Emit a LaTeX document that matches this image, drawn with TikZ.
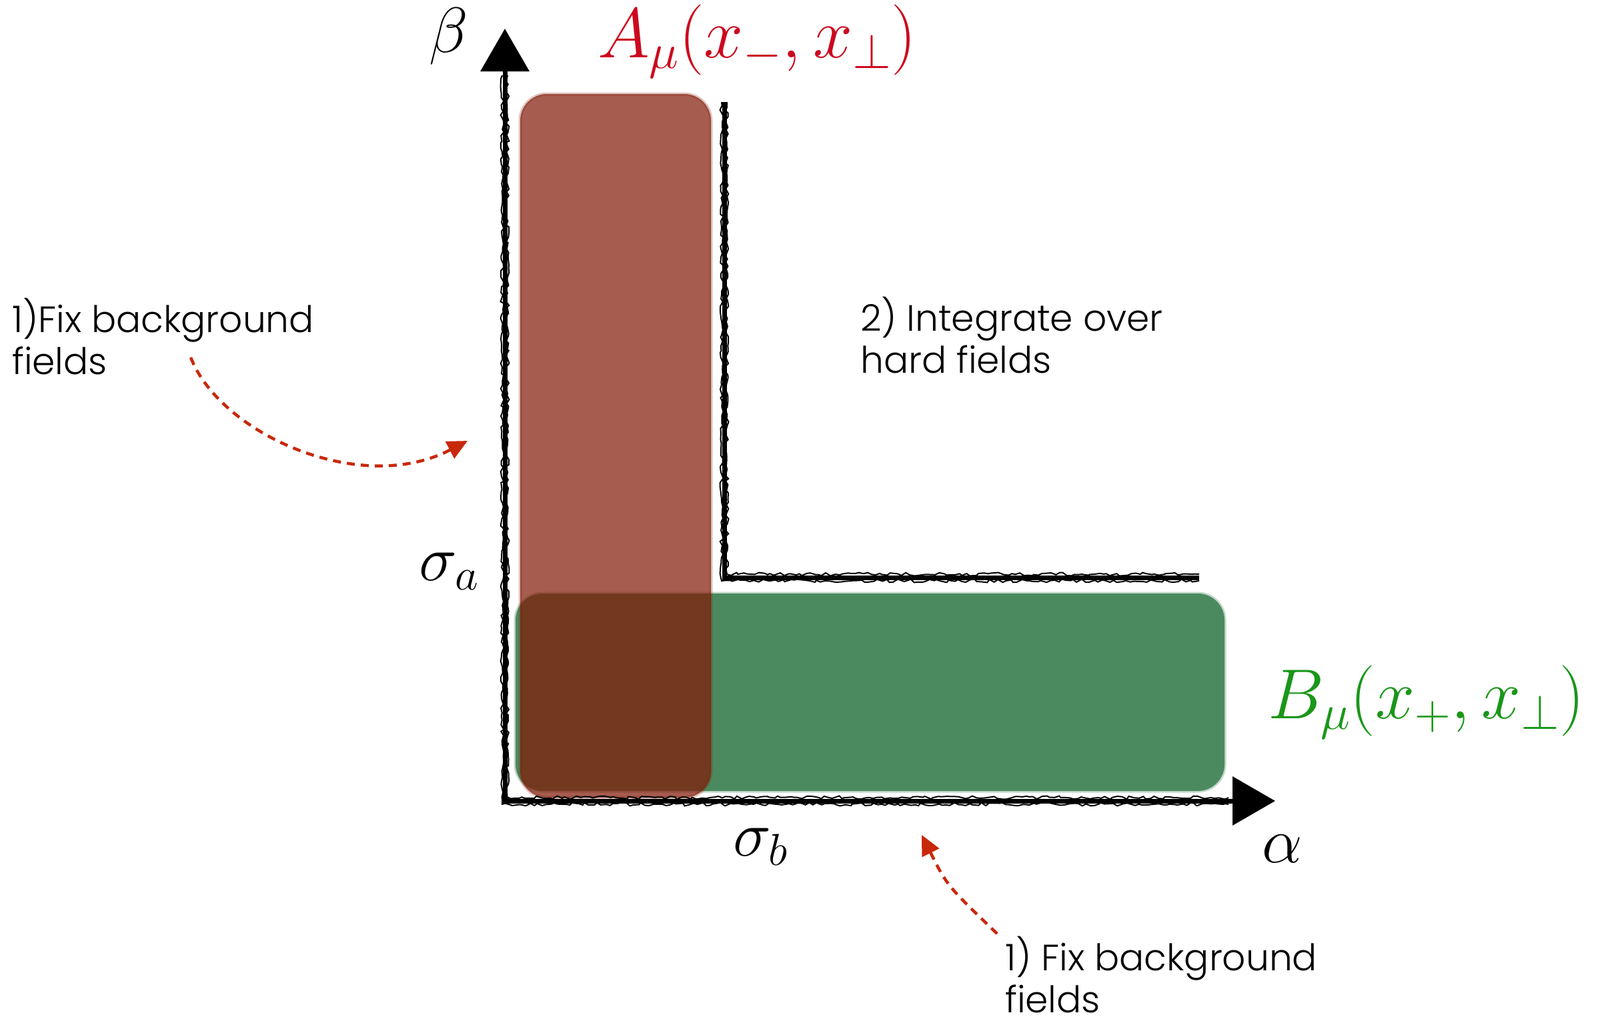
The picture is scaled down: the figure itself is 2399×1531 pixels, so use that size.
\RequirePackage{fix-cm}
\documentclass[tikz,border=0pt]{standalone}
\usepackage[no-math]{fontspec}
\setmainfont{Poppins Light}
\usetikzlibrary{arrows.meta,decorations.pathmorphing}
\definecolor{redfield}{RGB}{130,25,6}
\definecolor{greenfield}{RGB}{75,138,95}
\definecolor{labred}{RGB}{204,8,30}
\definecolor{labgreen}{RGB}{26,150,26}
\definecolor{dashred}{RGB}{200,40,10}
\newcommand\mymathsize{\fontsize{96}{100}\selectfont}
\newcommand\mybigmathsize{\fontsize{106}{110}\selectfont}
\newcommand\mytextsize{\fontsize{55}{63}\selectfont}
\tikzset{
  axisline/.style={draw=black, line width=7pt},
  axisarrow/.style={axisline, -{Triangle[length=64pt,width=72pt]}},
  brush/.style={draw=black, line width=2pt, decorate,
    decoration={random steps, segment length=6pt, amplitude=2.5pt}},
  dasharrow/.style={draw=dashred, line width=4.5pt, dash pattern=on 12pt off 9pt,
    -{Triangle[length=30pt,width=28pt]}},
  mathlab/.style={font=\mymathsize, inner sep=0pt},
  biglab/.style={font=\mybigmathsize, inner sep=0pt},
  txt/.style={font=\mytextsize, align=left, inner sep=0pt, anchor=west},
  fieldbox/.style={rounded corners=40pt},
  softedge/.style={line width=5pt, draw opacity=0.35, rounded corners=40pt}
}
\begin{document}
\begin{tikzpicture}[x=1pt,y=-1pt]
\useasboundingbox (0,0) rectangle (2399,1531);
% field regions
\fill[greenfield, fieldbox] (773,890) rectangle (1836,1186);
\draw[greenfield, softedge] (773,890) rectangle (1836,1186);
\fill[redfield, fill opacity=0.71, fieldbox] (780,141) rectangle (1066,1196);
\draw[redfield, softedge, draw opacity=0.25] (780,141) rectangle (1066,1196);
% axes
\coordinate (O) at (757,1206);
\coordinate (Ytip) at (757,43);
\coordinate (Ox) at (752,1201);
\coordinate (Xtip) at (1912,1201);
\coordinate (Ltop) at (1086,153);
\coordinate (Lcorner) at (1086,866);
\coordinate (Lend) at (1798,866);
\draw[axisarrow] (O) -- (Ytip);
\draw[axisarrow] (Ox) -- (Xtip);
\draw[axisline] (Ltop) -- (Lcorner) -- (Lend);
\draw[brush] ([xshift=4pt]O) -- ([xshift=4pt,yshift=-70pt]Ytip);
\draw[brush] ([xshift=-4pt]O) -- ([xshift=-4pt,yshift=-70pt]Ytip);
\draw[brush] ([yshift=-5pt]Ox) -- ([xshift=-70pt,yshift=-5pt]Xtip);
\draw[brush] ([yshift=5pt]Ox) -- ([xshift=-70pt,yshift=5pt]Xtip);
\draw[brush] ([xshift=-4pt]Ltop) -- ([xshift=-4pt,yshift=-5pt]Lcorner) -- ([yshift=-5pt]Lend);
\draw[brush] ([xshift=4pt]Ltop) -- ([xshift=4pt,yshift=5pt]Lcorner) -- ([yshift=5pt]Lend);
% labels
\node[mathlab] (beta) at (673,54) {$\beta$};
\node[mathlab] (alpha) at (1923,1273) {$\alpha$};
\node[mathlab] (siga) at (673,857) {$\sigma_a$};
\node[mathlab] (sigb) at (1140,1270) {$\sigma_b$};
\node[biglab, text=labred] (Alab) at (1135,62) {$A_\mu(x_-,x_\perp)$};
\node[biglab, text=labgreen] (Blab) at (2139,1053) {$B_\mu(x_+,x_\perp)$};
% texts
\node[txt] (fixL) at (18,505) {1)Fix background\\fields};
\node[txt] (integ) at (1290,503) {2) Integrate over\\hard fields};
\node[txt] (fixB) at (1507,1462) {1) Fix background\\fields};
% dashed arrows
\coordinate (s1) at (286,536);
\coordinate (e1) at (701,661);
\draw[dasharrow] (s1) .. controls (330,650) and (540,745) .. (e1);
\coordinate (s2) at (1495,1400);
\coordinate (e2) at (1382,1252);
\draw[dasharrow] (s2) .. controls (1420,1328) .. (e2);
\end{tikzpicture}
\end{document}
